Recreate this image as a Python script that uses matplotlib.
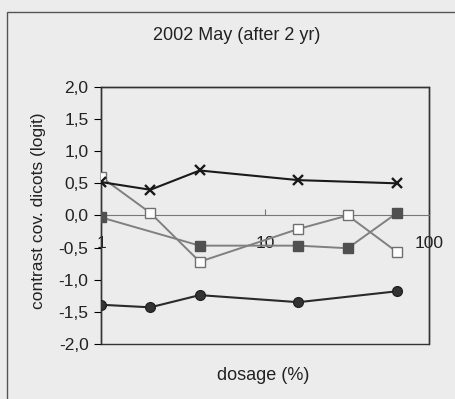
import matplotlib
matplotlib.use("Agg")
import matplotlib.pyplot as plt
from matplotlib.patches import Rectangle
from matplotlib.ticker import FixedLocator, FuncFormatter

plt.rcParams['font.family'] = ['Liberation Sans', 'DejaVu Sans']

# dosage (%) and contrasts per series
dose_cross = [1, 2, 4, 16, 64]
val_cross = [0.52, 0.40, 0.70, 0.55, 0.50]

dose_open = [1, 2, 4, 16, 32, 64]
val_open = [0.60, 0.04, -0.72, -0.21, 0.00, -0.57]

dose_fill = [1, 4, 16, 32, 64]
val_fill = [-0.03, -0.47, -0.47, -0.51, 0.04]

dose_circ = [1, 2, 4, 16, 64]
val_circ = [-1.39, -1.43, -1.24, -1.35, -1.18]

y_ticks = [-2.0, -1.5, -1.0, -0.5, 0.0, 0.5, 1.0, 1.5, 2.0]
x_ticks = [1, 10, 100]

bg = '#ececec'
fig = plt.figure(figsize=(4.56, 3.99), dpi=100, facecolor=bg)
ax = fig.add_axes([0.2215, 0.138, 0.719, 0.644], facecolor=bg)

# outer frame around the whole chart
fig.patches.append(Rectangle((0.016, -0.05), 1.1, 1.02, transform=fig.transFigure,
                             fill=False, edgecolor='#555555', linewidth=1.0))

ax.plot(dose_open, val_open, color='#808080', lw=1.4, marker='s', ms=6.5,
        mfc='white', mec='#707070', mew=1.0, zorder=3)
ax.plot(dose_fill, val_fill, color='#808080', lw=1.4, marker='s', ms=6.5,
        mfc='#505050', mec='#505050', zorder=3)
ax.plot(dose_cross, val_cross, color='#1a1a1a', lw=1.5, marker='x', ms=7.5,
        mew=1.7, zorder=4)
ax.plot(dose_circ, val_circ, color='#2a2a2a', lw=1.5, marker='o', ms=7,
        mfc='#333333', mec='#222222', zorder=4)

ax.set_xscale('log')
ax.set_xlim(1, 100)
ax.set_ylim(-2, 2)

ax.spines['bottom'].set_position(('data', 0))
ax.spines['bottom'].set_color('#777777')
for s in ['left', 'right', 'top']:
    ax.spines[s].set_color('#333333')
    ax.spines[s].set_linewidth(1.0)
# bottom edge of the plot box
ax.add_patch(Rectangle((0, 0), 1, 1, transform=ax.transAxes, fill=False,
                       edgecolor='#333333', lw=1.0, clip_on=False, zorder=1))

ax.xaxis.set_major_locator(FixedLocator(x_ticks))
ax.xaxis.set_minor_locator(FixedLocator([]))
ax.xaxis.set_major_formatter(FuncFormatter(lambda v, p: '%d' % v))
ax.tick_params(axis='x', direction='in', length=4, pad=15, labelsize=12.5,
               color='#777777', labelcolor='#222222')

ax.yaxis.set_major_locator(FixedLocator(y_ticks))
ax.yaxis.set_major_formatter(FuncFormatter(lambda v, p: ('%.1f' % v).replace('.', ',')))
ax.tick_params(axis='y', direction='out', length=5, pad=4, labelsize=12.5,
               labelcolor='#222222')

fig.text(0.0855, 0.471, 'contrast cov. dicots (logit)', rotation=90,
         ha='center', va='center', fontsize=12.5, color='#222222')
fig.text(0.578, 0.06, 'dosage (%)', ha='center', va='center', fontsize=13,
         color='#222222')
fig.text(0.518, 0.912, '2002 May (after 2 yr)', ha='center', va='center',
         fontsize=13, color='#222222')

fig.savefig('out.png', dpi=100, facecolor=bg)
